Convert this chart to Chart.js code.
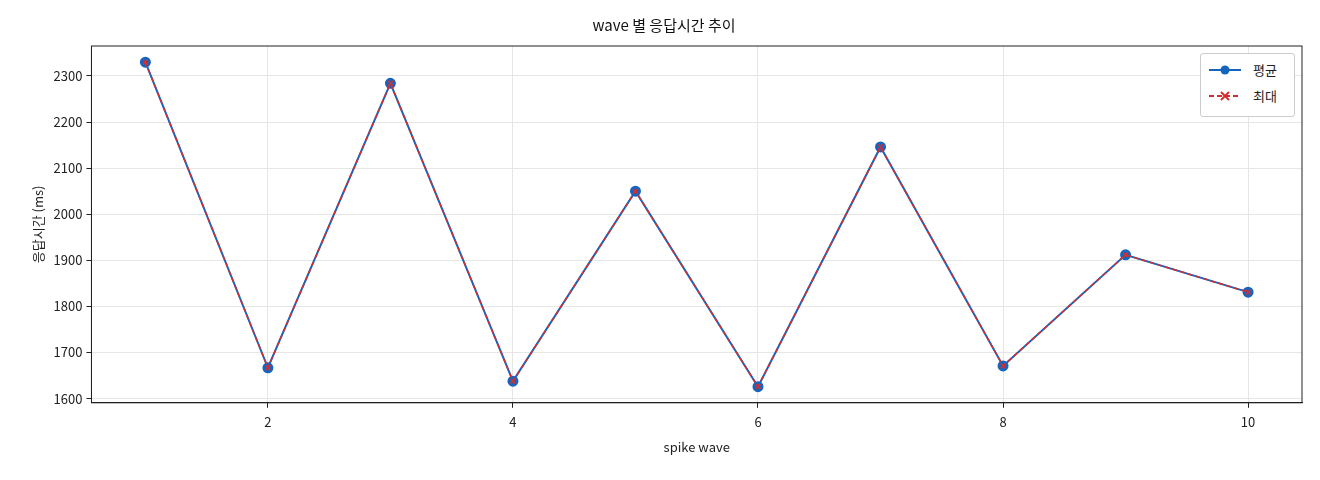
<!DOCTYPE html>
<html><head><meta charset="utf-8">
<script src="https://cdn.jsdelivr.net/npm/chart.js@4"></script>
<style>
body{margin:0;background:#fff;font-family:"Noto Sans CJK KR",sans-serif}
#wrap{position:relative;width:1320px;height:480px}
#legend{position:absolute;left:1200px;top:53px;width:93px;height:62px;border:1px solid #ccc;border-radius:3px;background:#fff;font-size:13px;color:#222}
.row{position:relative;height:26px;margin-top:3px}
.row span{position:absolute;left:52px;top:3px}
</style></head><body>
<div id="wrap"><canvas id="c" width="1320" height="480"></canvas>
<div id="legend">
 <div class="row"><svg width="50" height="26"><line x1="8" y1="13" x2="40" y2="13" stroke="#1565c0" stroke-width="2"/><circle cx="24" cy="13" r="4.5" fill="#1565c0"/></svg><span>평균</span></div>
 <div class="row" style="margin-top:0"><svg width="50" height="26"><line x1="8" y1="13" x2="40" y2="13" stroke="#d32f2f" stroke-width="2" stroke-dasharray="5,3"/><path d="M20 9 L28 17 M28 9 L20 17" stroke="#d32f2f" stroke-width="2"/></svg><span>최대</span></div>
</div></div>
<script>
const waves = [1,2,3,4,5,6,7,8,9,10];
const avgMs = [2330,1667,2284,1638,2050,1626,2146,1671,1912,1831];
const maxMs = [2330,1667,2284,1638,2050,1626,2146,1671,1912,1831];
const xTicks = [2,4,6,8,10];
const yTicks = [1600,1700,1800,1900,2000,2100,2200,2300];
const font = {family:"'Noto Sans CJK KR', sans-serif", size:13};
new Chart(document.getElementById('c'), {
  type:'line',
  data:{datasets:[
    {label:'평균', order:1, data:waves.map((w,i)=>({x:w,y:avgMs[i]})), borderColor:'#1565c0', backgroundColor:'#1565c0', borderWidth:2, pointRadius:4.5, pointStyle:'circle'},
    {label:'최대', order:0, data:waves.map((w,i)=>({x:w,y:maxMs[i]})), borderColor:'#d32f2f', backgroundColor:'#d32f2f', borderWidth:1.5, borderDash:[5,3], pointRadius:3.5, pointStyle:'crossRot', pointBorderWidth:1.5}
  ]},
  options:{
    responsive:false, animation:false,
    layout:{padding:{left:26,right:18,top:0,bottom:21}},
    plugins:{legend:{display:false}, tooltip:{enabled:false},
      title:{display:true, text:'wave 별 응답시간 추이', color:'#111', font:{...font,size:15,weight:'normal'}, padding:{top:16,bottom:12}}},
    scales:{
      x:{type:'linear', min:0.56, max:10.44,
        afterBuildTicks:s=>{s.ticks=xTicks.map(v=>({value:v}))},
        ticks:{color:'#222', font, padding:6, callback:v=>String(v)},
        grid:{color:'#e6e6e6', tickLength:5, tickColor:'#222'}, border:{color:'#222'},
        title:{display:true, text:'spike wave', color:'#222', font}},
      y:{min:1591, max:2365,
        afterBuildTicks:s=>{s.ticks=yTicks.map(v=>({value:v}))},
        ticks:{color:'#222', font, padding:4, callback:v=>String(v)},
        grid:{color:'#e6e6e6', tickLength:5, tickColor:'#222'}, border:{color:'#222'},
        title:{display:true, text:'응답시간 (ms)', color:'#222', font}}
    }
  },
  plugins:[{id:'frame', afterDraw(c){const a=c.chartArea,x=c.ctx;x.save();x.strokeStyle='#222';x.lineWidth=1;x.strokeRect(a.left,a.top,a.right-a.left,a.bottom-a.top);x.restore();}}]
});
</script></body></html>
